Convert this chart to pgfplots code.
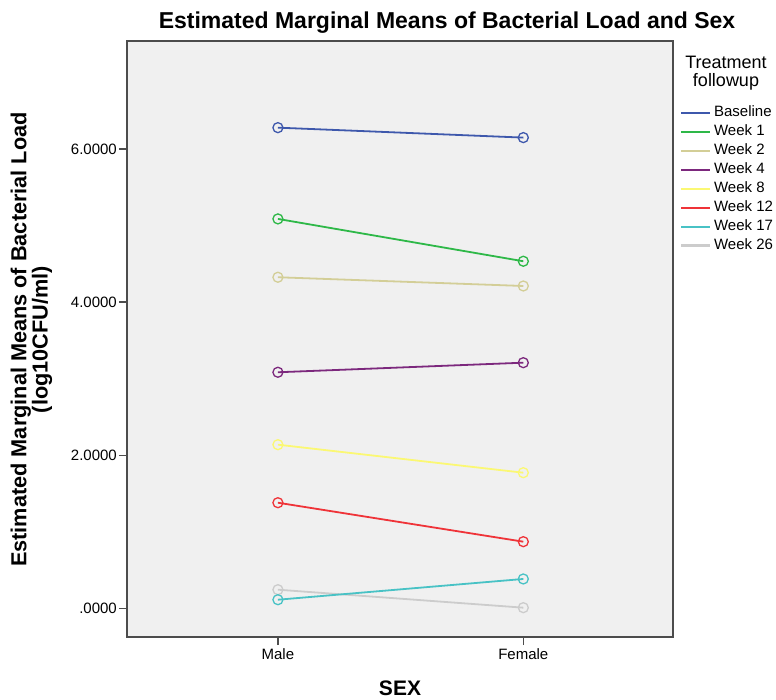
\documentclass[border=0pt]{standalone}
\usepackage{pgfplots}
\pgfplotsset{compat=1.18}
\usepackage{fontspec}
\setmainfont{Liberation Sans}
\definecolor{bgcol}{HTML}{F0F0F0}
\definecolor{cBase}{HTML}{3E58AC}
\definecolor{cWa}{HTML}{2EB848}
\definecolor{cWb}{HTML}{D3CE97}
\definecolor{cWc}{HTML}{7C287D}
\definecolor{cWd}{HTML}{FBF873}
\definecolor{cWe}{HTML}{EF3338}
\definecolor{cWf}{HTML}{48C2C5}
\definecolor{cWg}{HTML}{CCCCCC}
\begin{document}
\begin{tikzpicture}
\begin{axis}[
  at={(127bp,63bp)}, anchor=south west,
  scale only axis, width=546bp, height=596bp,
  xmin=0.385, xmax=2.61, ymin=-0.375, ymax=7.41,
  axis background/.style={fill=bgcol},
  axis line style={draw=black!70, line width=1.3bp},
  xtick={1,2}, xticklabels={Male,Female},
  ytick={0,2,4,6}, yticklabels={.0000,2.0000,4.0000,6.0000},
  tick align=outside, tick pos=left,
  major tick length=8bp,
  every tick/.style={black!70, line width=1.3bp},
  /pgf/number format/assume math mode=true,
  ticklabel style={font=\fontsize{15bp}{16bp}\selectfont},
  yticklabel style={inner xsep=2bp},
  legend cell align=left,
  legend style={draw=none, fill=none, inner sep=0pt,
    at={(1.0128,0.890)}, anchor=north west,
    font=\fontsize{15bp}{15bp}\selectfont,
    row sep=5.9bp, column sep=0pt,
    nodes={inner xsep=2.7bp, inner ysep=0pt, text height=10bp, text depth=3bp}},
  legend image code/.code={\draw[#1] (0bp,0bp) -- (29bp,0bp);},
]
\addlegendimage{draw=cBase, line width=2.2bp}\addlegendentry{Baseline}
\addlegendimage{draw=cWa, line width=2.2bp}\addlegendentry{Week 1}
\addlegendimage{draw=cWb, line width=2.2bp}\addlegendentry{Week 2}
\addlegendimage{draw=cWc, line width=2.2bp}\addlegendentry{Week 4}
\addlegendimage{draw=cWd, line width=2.2bp}\addlegendentry{Week 8}
\addlegendimage{draw=cWe, line width=2.2bp}\addlegendentry{Week 12}
\addlegendimage{draw=cWf, line width=2.2bp}\addlegendentry{Week 17}
\addlegendimage{draw=cWg, line width=2.2bp}\addlegendentry{Week 26}
\pgfplotsset{every axis plot/.append style={line width=1.8bp, mark=o, mark size=5bp, mark options={line width=1.3bp}}}
\addplot[cBase, forget plot] coordinates {(1,6.278) (2,6.148)};
\addplot[cWa, forget plot] coordinates {(1,5.086) (2,4.533)};
\addplot[cWb, forget plot] coordinates {(1,4.324) (2,4.210)};
\addplot[cWc, forget plot] coordinates {(1,3.083) (2,3.208)};
\addplot[cWd, forget plot] coordinates {(1,2.137) (2,1.771)};
\addplot[cWe, forget plot] coordinates {(1,1.379) (2,0.870)};
\addplot[cWg, forget plot] coordinates {(1,0.243) (2,0.008)};
\addplot[cWf, forget plot] coordinates {(1,0.112) (2,0.383)};
\end{axis}
\node[font=\bfseries\fontsize{23bp}{23bp}\selectfont] at (447bp,677bp) {Estimated Marginal Means of Bacterial Load and Sex};
\node[font=\bfseries\fontsize{21.7bp}{19.5bp}\selectfont, rotate=90, align=center] at (31.5bp,360.5bp) {Estimated Marginal Means of Bacterial Load\\(log10CFU/ml)};
\node[font=\bfseries\fontsize{21bp}{21bp}\selectfont, inner sep=0pt] at (400bp,12bp) {SEX};
\node[font=\fontsize{18bp}{17.7bp}\selectfont, align=center] at (726bp,627bp) {Treatment\\followup};
\pgfresetboundingbox
\path[use as bounding box] (0,0) rectangle (776bp,700bp);
\end{tikzpicture}
\end{document}
